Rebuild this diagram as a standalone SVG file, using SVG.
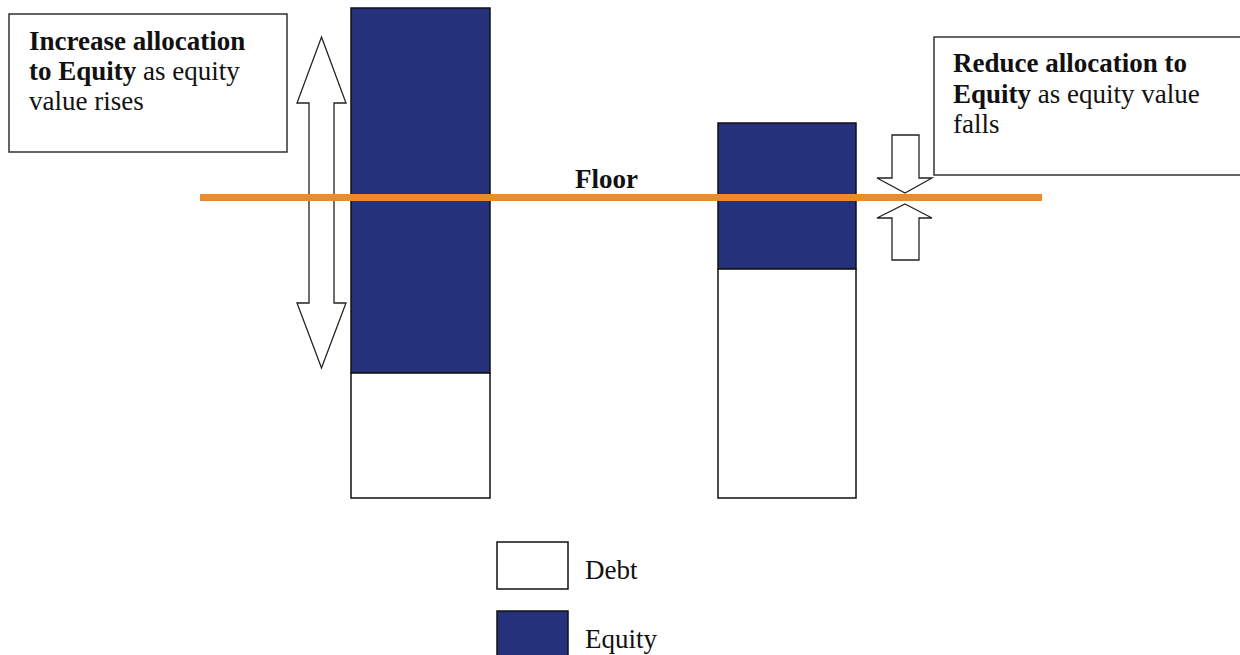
<svg xmlns="http://www.w3.org/2000/svg" width="1240" height="655" viewBox="0 0 1240 655">
  <style>
    .txt { font-family: "Liberation Serif", "Times New Roman", serif; font-size: 27px; fill: #111; }
    .b { font-weight: bold; }
    .box { fill: #fff; stroke: #333; stroke-width: 1.5; }
    .eq { fill: #25317b; stroke: #111; stroke-width: 1.5; }
    .debt { fill: #fff; stroke: #111; stroke-width: 1.5; }
    .arrow { fill: #fff; stroke: #222; stroke-width: 1.3; stroke-linejoin: miter; }
  </style>
  <rect width="1240" height="655" fill="#fff"/>

  <g id="left-note">
    <rect class="box" x="9" y="14" width="278" height="138"/>
    <text class="txt" x="29" y="50"><tspan class="b">Increase allocation</tspan></text>
    <text class="txt" x="29" y="80"><tspan class="b">to Equity</tspan> as equity</text>
    <text class="txt" x="29" y="110">value rises</text>
  </g>

  <g id="right-note">
    <rect class="box" x="934" y="37" width="310" height="138"/>
    <text class="txt" x="953" y="72"><tspan class="b">Reduce allocation to</tspan></text>
    <text class="txt" x="953" y="103"><tspan class="b">Equity</tspan> as equity value</text>
    <text class="txt" x="953" y="133">falls</text>
  </g>

  <g id="bar-left">
    <rect class="eq" x="351" y="8" width="139" height="365"/>
    <rect class="debt" x="351" y="373" width="139" height="125"/>
  </g>

  <g id="bar-right">
    <rect class="eq" x="718" y="123" width="138" height="146"/>
    <rect class="debt" x="718" y="269" width="138" height="229"/>
  </g>

  <g id="connectors">
    <polygon id="double-arrow" class="arrow" points="321.5,37 346,103 334,103 334,303 346,303 321.5,368 297,303 309,303 309,103 297,103"/>
    <polygon id="down-arrow" class="arrow" points="892,135 919,135 919,178 932,178 905,193 877,178 892,178"/>
    <polygon id="up-arrow" class="arrow" points="905,204 932,218 919,218 919,260 892,260 892,218 877,218"/>
  </g>

  <g id="floor">
    <line x1="200" y1="197.5" x2="1042" y2="197.5" stroke="#ee8a2e" stroke-width="7"/>
    <text class="txt b" x="575" y="188">Floor</text>
  </g>

  <g id="legend">
    <rect class="debt" x="497" y="542" width="71" height="47"/>
    <text class="txt" x="585" y="579">Debt</text>
    <rect class="eq" x="497" y="611" width="71" height="50"/>
    <text class="txt" x="585" y="648">Equity</text>
  </g>
</svg>
